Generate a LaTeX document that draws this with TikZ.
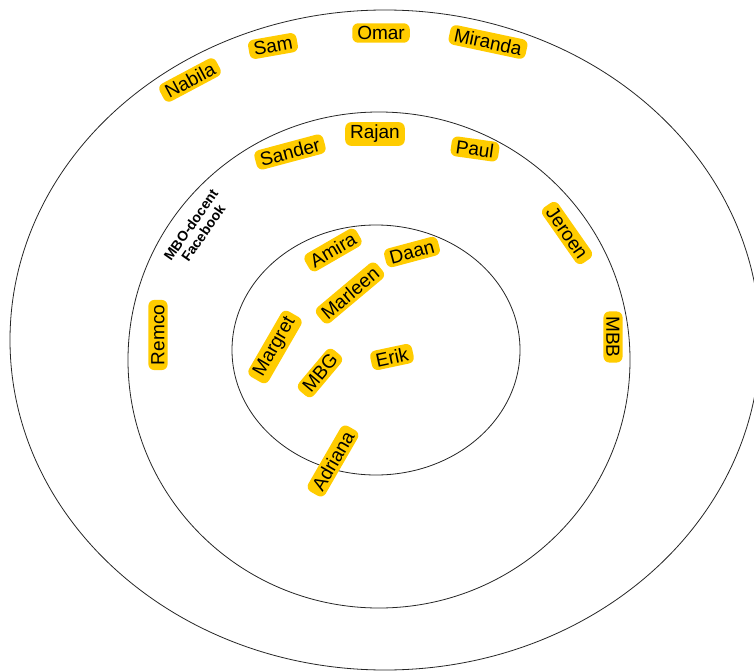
\documentclass[tikz,border=0pt]{standalone}
\usepackage{fontspec}
\setmainfont{Liberation Sans}
\definecolor{tagyellow}{HTML}{FFCC00}
\begin{document}
\begin{tikzpicture}[x=1pt,y=-1pt,
  person/.style={fill=tagyellow, rounded corners=6pt, inner xsep=5pt, inner ysep=3pt,
    font=\fontsize{19}{21}\selectfont, text=black},
  ring/.style={draw=black!85, line width=0.8pt}]
\useasboundingbox (0,0) rectangle (754,671);
\clip (0,0) rectangle (754,671);
\fill[white] (0,0) rectangle (754,671);
\draw[ring] (385,340) ellipse [x radius=375pt, y radius=330pt];
\draw[ring] (379,360) ellipse [x radius=251pt, y radius=248pt];
\draw[ring] (376,350) ellipse [x radius=144pt, y radius=125pt];
% outer ring
\node[person, rotate=28] (nabila) at (190,80) {Nabila};
\node[person, rotate=10] (sam) at (273,46) {Sam};
\node[person] (omar) at (381,33) {Omar};
\node[person, rotate=-12] (miranda) at (488,42) {Miranda};
% middle ring
\node[person, rotate=15] (sander) at (290,152) {Sander};
\node[person] (rajan) at (375,134) {Rajan};
\node[person, rotate=-8] (paul) at (475,149) {Paul};
\node[person, rotate=-55] (jeroen) at (567,233) {Jeroen};
\node[person, rotate=-90] (mbb) at (613,337) {MBB};
\node[person, rotate=90] (remco) at (158,335) {Remco};
\node[font=\bfseries\fontsize{14}{15}\selectfont, align=center, rotate=55] (group) at (197,229) {MBO-docent\\Facebook};
% inner ring
\node[person, rotate=30] (amira) at (333,250) {Amira};
\node[person, rotate=15] (daan) at (412,252) {Daan};
\node[person, rotate=40] (marleen) at (350,293) {Marleen};
\node[person, rotate=60] (margret) at (275,347) {Margret};
\node[person, rotate=50] (mbg) at (320,373) {MBG};
\node[person, rotate=12] (erik) at (392,357) {Erik};
\node[person, rotate=60] (adriana) at (333,461) {Adriana};
\end{tikzpicture}
\end{document}
